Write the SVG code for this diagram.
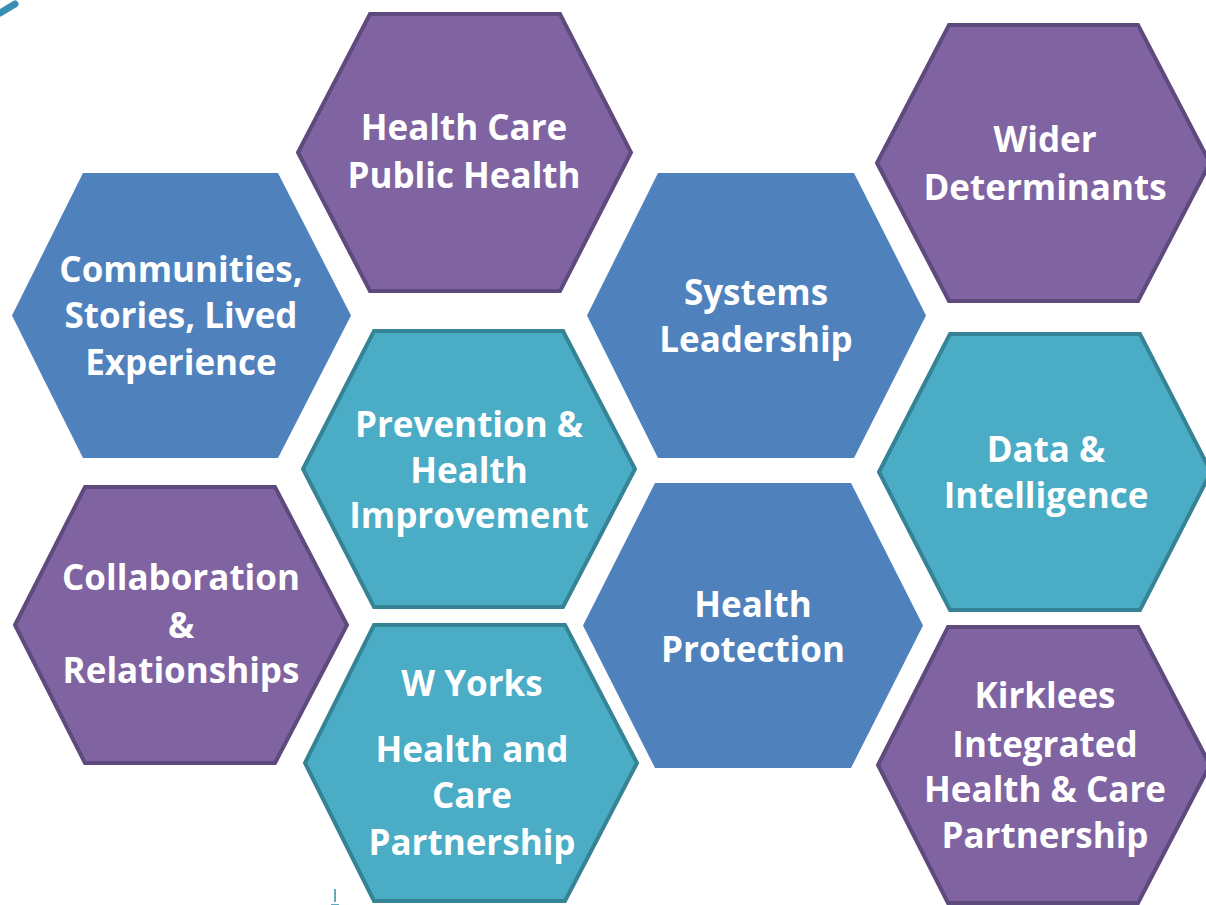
<svg xmlns="http://www.w3.org/2000/svg" width="1206" height="905" viewBox="0 0 1206 905">
<style>
.purple{fill:#8064A2;stroke:#5E4A7C;stroke-width:4;stroke-linejoin:miter}
.teal{fill:#4BACC6;stroke:#378396;stroke-width:4;stroke-linejoin:miter}
.blue{fill:#4F81BD}
text{font-family:"Open Sans","Noto Sans","Liberation Sans",sans-serif;font-weight:700;font-size:35px;fill:#FFFFFF;text-anchor:middle}
</style>
<rect width="1206" height="905" fill="#FFFFFF"/>
<g id="decor">
<path d="M0,13 L15,4" stroke="#3A90B2" stroke-width="7" stroke-linecap="round" fill="none"/>
<path d="M335,889 L335,902 M331,905 L339,905" stroke="#3A8AA8" stroke-width="1.5" fill="none"/>
</g>
<g id="connectors"></g>
<g id="node-health-care-public-health">
<polygon class="purple" points="298,152.5 370,14 560,14 631,152.5 560,291 370,291"/>
<text x="464" y="140">Health Care</text>
<text x="464" y="188">Public Health</text>
</g>
<g id="node-communities">
<polygon class="blue" points="12,315.5 83,173 278,173 351,315.5 278,458 83,458"/>
<text x="181" y="282">Communities,</text>
<text x="181" y="328">Stories, Lived</text>
<text x="181" y="375">Experience</text>
</g>
<g id="node-systems-leadership">
<polygon class="blue" points="587,315.5 658,173 854,173 926,315.5 854,458 658,458"/>
<text x="756" y="305">Systems</text>
<text x="756" y="352">Leadership</text>
</g>
<g id="node-wider-determinants">
<polygon class="purple" points="877,163 949,25 1138,25 1210,163 1138,301 949,301"/>
<text x="1045" y="152">Wider</text>
<text x="1045" y="200">Determinants</text>
</g>
<g id="node-prevention">
<polygon class="teal" points="303,469 374,331 563,331 635,469 563,607 374,607"/>
<text x="469" y="437">Prevention &amp;</text>
<text x="469" y="483">Health</text>
<text x="469" y="528">Improvement</text>
</g>
<g id="node-data-intelligence">
<polygon class="teal" points="879,472 950,334 1140,334 1211,472 1140,610 950,610"/>
<text x="1046" y="462">Data &amp;</text>
<text x="1046" y="508">Intelligence</text>
</g>
<g id="node-collaboration">
<polygon class="purple" points="15,625 85,487 275,487 347,625 275,763 85,763"/>
<text x="181" y="590">Collaboration</text>
<text x="181" y="638">&amp;</text>
<text x="181" y="683">Relationships</text>
</g>
<g id="node-health-protection">
<polygon class="blue" points="583,625.5 655,483 851,483 923,625.5 851,768 655,768"/>
<text x="753" y="617">Health</text>
<text x="753" y="662">Protection</text>
</g>
<g id="node-w-yorks">
<polygon class="teal" points="305,763 374,625 565,625 637,763 565,901 374,901"/>
<text x="472" y="696">W Yorks</text>
<text x="472" y="762">Health and</text>
<text x="472" y="808">Care</text>
<text x="472" y="855">Partnership</text>
</g>
<g id="node-kirklees">
<polygon class="purple" points="878,765 948,627 1138,627 1210,765 1138,903 948,903"/>
<text x="1045" y="708">Kirklees</text>
<text x="1045" y="757">Integrated</text>
<text x="1045" y="802">Health &amp; Care</text>
<text x="1045" y="848">Partnership</text>
</g>
</svg>
